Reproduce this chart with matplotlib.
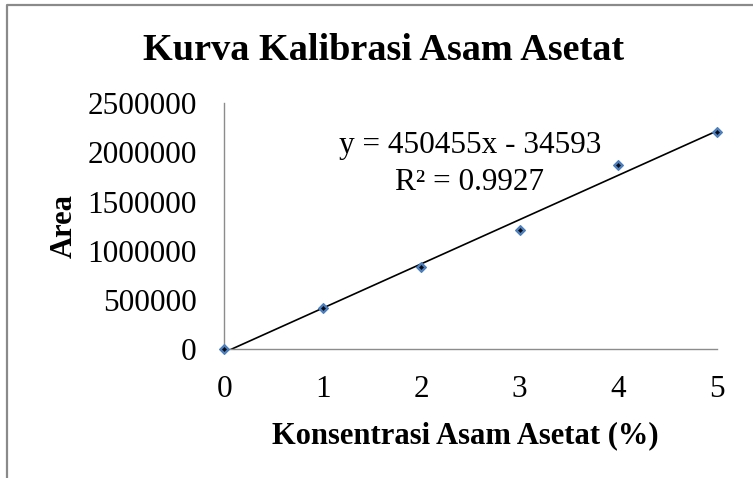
import matplotlib
matplotlib.use("Agg")
import matplotlib.pyplot as plt
from matplotlib.lines import Line2D
import numpy as np

# Calibration data: acetic acid concentration (%) vs. peak area
konsentrasi = [0, 1, 2, 3, 4, 5]
area = [0, 420000, 839000, 1208000, 1876000, 2206000]

# Linear trendline coefficients and fit quality
slope = 450455
intercept = -34593
r_squared = 0.9927

x_ticks = [0, 1, 2, 3, 4, 5]
y_ticks = [0, 500000, 1000000, 1500000, 2000000, 2500000]

title = "Kurva Kalibrasi Asam Asetat"
x_label = "Konsentrasi Asam Asetat (%)"
y_label = "Area"

plt.rcParams["font.family"] = ["Liberation Serif", "DejaVu Serif"]

W, H = 753, 478
fig = plt.figure(figsize=(W / 100, H / 100), dpi=100)

# plot area in pixel coordinates
left_px, right_px, top_px, bottom_px = 224.3, 716.7, 103.3, 349.0
ax = fig.add_axes([left_px / W, 1 - bottom_px / H,
                   (right_px - left_px) / W, (bottom_px - top_px) / H])

axis_grey = "#8c8c8c"

# trendline from the stated equation, clipped to the axis range
xt = np.linspace(0, 5, 200)
ax.plot(xt, slope * xt + intercept, color="black", lw=1.2, zorder=2)

# data points: blue diamonds with a dark centre
ax.plot(konsentrasi, area, linestyle="none", marker="D", markersize=5.5,
        markerfacecolor="#4F81BD", markeredgecolor="#4A7EBB",
        markeredgewidth=0.8, zorder=3, clip_on=False)
ax.plot(konsentrasi, area, linestyle="none", marker="D", markersize=2.2,
        markerfacecolor="#0a0a14", markeredgecolor="#0a0a14",
        markeredgewidth=0.3, zorder=4, clip_on=False)

ax.set_xlim(0, 5)
ax.set_ylim(0, 2500000)
ax.set_xticks(x_ticks)
ax.set_yticks(y_ticks)
ax.set_xticklabels([str(v) for v in x_ticks])
ax.set_yticklabels([str(v) for v in y_ticks])

for side in ("top", "right"):
    ax.spines[side].set_visible(False)
for side in ("left", "bottom"):
    ax.spines[side].set_color(axis_grey)
    ax.spines[side].set_linewidth(1.0)

ax.tick_params(axis="both", length=0, labelsize=22.5, colors="black")
ax.tick_params(axis="y", pad=20)
ax.tick_params(axis="x", pad=19)

# trendline equation and R²
ax.text(2.494, 1994000, f"y = {slope}x - {abs(intercept)}",
        ha="center", va="baseline", fontsize=22.5)
ax.text(2.494, 1618000, f"R² = {r_squared}",
        ha="center", va="baseline", fontsize=22.5)

# title and axis titles
fig.text(384 / W, 1 - 60 / H, title, ha="center", va="baseline",
         fontsize=27.5, fontweight="bold")
fig.text(465 / W, 1 - 443 / H, x_label, ha="center", va="baseline",
         fontsize=22, fontweight="bold")
fig.text(64 / W, 1 - 226 / H, y_label, ha="center", va="center",
         rotation=90, fontsize=22, fontweight="bold")

# chart frame (left and top edges)
fig.add_artist(Line2D([7 / W, 7 / W, 1.0], [0.0, 1 - 5 / H, 1 - 5 / H],
                      transform=fig.transFigure, color="#8a8a8a", lw=1.6))

fig.savefig("out.png", dpi=100)
